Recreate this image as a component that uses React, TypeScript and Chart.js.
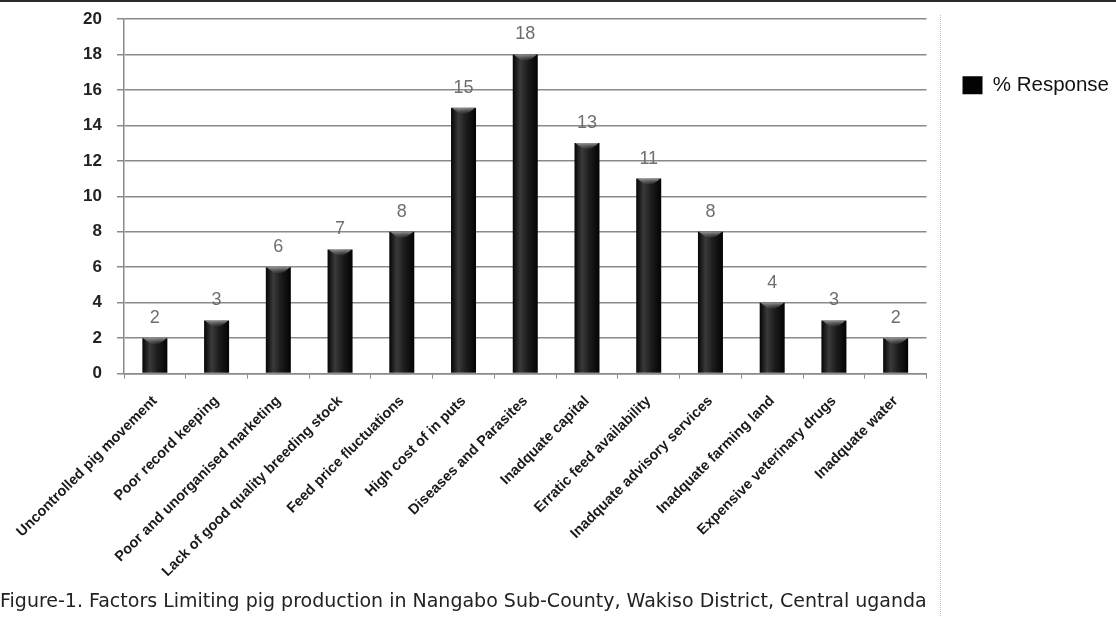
import React, { useEffect, useRef } from 'react';
import { Chart, registerables } from 'chart.js';

Chart.register(...registerables);

const CATEGORIES = [
  'Uncontrolled pig movement',
  'Poor record keeping',
  'Poor and unorganised marketing',
  'Lack of good quality breeding stock',
  'Feed price fluctuations',
  'High cost of in puts',
  'Diseases and Parasites',
  'Inadquate capital',
  'Erratic feed availability',
  'Inadquate advisory services',
  'Inadquate farming land',
  'Expensive veterinary drugs',
  'Inadquate water',
];
const RESPONSE = [2, 3, 6, 7, 8, 15, 18, 13, 11, 8, 4, 3, 2];
const SERIES_LABEL = '% Response';
const Y_MIN = 0;
const Y_MAX = 20;
const Y_STEP = 2;
const CAPTION =
  'Figure-1. Factors Limiting pig production in Nangabo Sub-County, Wakiso District, Central uganda';

const BAR_PCT = 0.405;
const SANS = "'Liberation Sans', Arial, sans-serif";

const valueLabels = {
  id: 'valueLabels',
  afterDatasetsDraw(chart: any) {
    const meta = chart.getDatasetMeta(0);
    const c = chart.ctx;
    c.save();
    meta.data.forEach((el: any, i: number) => {
      const half = el.width / 2;
      // top highlight of the cylinder-like bar
      const g = c.createLinearGradient(0, el.y, 0, el.y + 8);
      g.addColorStop(0, 'rgba(170,170,170,0.85)');
      g.addColorStop(1, 'rgba(60,60,60,0)');
      c.fillStyle = g;
      c.beginPath();
      c.moveTo(el.x - half + 1, el.y);
      c.lineTo(el.x + half - 1, el.y);
      c.quadraticCurveTo(el.x, el.y + 12, el.x - half + 1, el.y);
      c.fill();
      c.fillStyle = '#6e6e6e';
      c.font = `18px ${SANS}`;
      c.textAlign = 'center';
      c.textBaseline = 'alphabetic';
      c.fillText(String(RESPONSE[i]), el.x, el.y - 15);
    });
    c.restore();
  },
};

const frame = {
  id: 'frame',
  afterDraw(chart: any) {
    const c = chart.ctx;
    c.save();
    c.fillStyle = '#2a2a2a';
    c.fillRect(0, 0, chart.width, 2);
    c.strokeStyle = '#bdbdbd';
    c.lineWidth = 1;
    c.setLineDash([1, 1]);
    c.beginPath();
    c.moveTo(940.5, 15);
    c.lineTo(940.5, chart.height);
    c.stroke();
    c.restore();
  },
};

export default function App() {
  const ref = useRef<HTMLCanvasElement | null>(null);

  useEffect(() => {
    if (!ref.current) return;
    const chart = new Chart(ref.current, {
      type: 'bar',
      data: {
        labels: CATEGORIES,
        datasets: [
          {
            label: SERIES_LABEL,
            data: RESPONSE,
            borderWidth: 0,
            categoryPercentage: 1,
            barPercentage: BAR_PCT,
            backgroundColor: (ctx: any) => {
              const ch = ctx.chart;
              const xs = ch.scales && ch.scales.x;
              if (ctx.type !== 'data' || !xs || !xs.width) return '#000';
              const cx = xs.getPixelForValue(ctx.dataIndex);
              const half = ((xs.width / CATEGORIES.length) * BAR_PCT) / 2;
              const g = ch.ctx.createLinearGradient(cx - half, 0, cx + half, 0);
              g.addColorStop(0, '#050505');
              g.addColorStop(0.3, '#3a3a3a');
              g.addColorStop(0.6, '#1c1c1c');
              g.addColorStop(1, '#030303');
              return g;
            },
          },
        ],
      },
      options: {
        animation: false,
        responsive: true,
        maintainAspectRatio: false,
        layout: { padding: { top: 19, left: 0, right: -3, bottom: 0 } },
        plugins: {
          tooltip: { enabled: false },
          legend: {
            display: true,
            position: 'right',
            align: 'start',
            title: { display: true, text: '', font: { size: 10 }, padding: { top: 4, bottom: 4 } },
            labels: {
              boxWidth: 20,
              boxHeight: 18,
              padding: 36,
              color: '#111',
              font: { family: SANS, size: 20.5 },
            },
          },
          title: {
            display: true,
            position: 'bottom',
            align: 'start',
            text: CAPTION,
            color: '#222',
            font: { family: "'DejaVu Sans', Verdana, sans-serif", size: 19, weight: 'normal' },
            padding: { top: 6.5, bottom: 3.1 },
          },
        },
        scales: {
          x: {
            offset: true,
            grid: {
              display: true,
              offset: true,
              drawOnChartArea: false,
              drawTicks: true,
              tickLength: 5,
              color: '#8a8a8a',
              lineWidth: 1,
            },
            border: { display: true, color: '#8a8a8a', width: 1.5 },
            ticks: {
              autoSkip: false,
              maxRotation: 45,
              minRotation: 45,
              padding: 14,
              color: '#1a1a1a',
              font: { family: SANS, size: 14.5, weight: 'bold' },
            },
            afterFit: (s: any) => {
              s.height = 211;
            },
          },
          y: {
            min: Y_MIN,
            max: Y_MAX,
            ticks: {
              stepSize: Y_STEP,
              padding: 15,
              color: '#222',
              font: { family: SANS, size: 17, weight: 'bold' },
            },
            grid: { color: '#8a8a8a', lineWidth: 1.5, tickLength: 7 },
            border: { display: true, color: '#8a8a8a', width: 1.5 },
            afterFit: (s: any) => {
              s.width = 124;
              s.paddingTop = 0;
              s.paddingBottom = 0;
            },
          },
        },
      },
      plugins: [valueLabels, frame],
    } as any);
    return () => chart.destroy();
  }, []);

  return (
    <div
      style={{
        position: 'fixed',
        left: 0,
        top: 0,
        width: 1116,
        height: 617,
        background: '#fff',
      }}
    >
      <canvas ref={ref} />
    </div>
  );
}
